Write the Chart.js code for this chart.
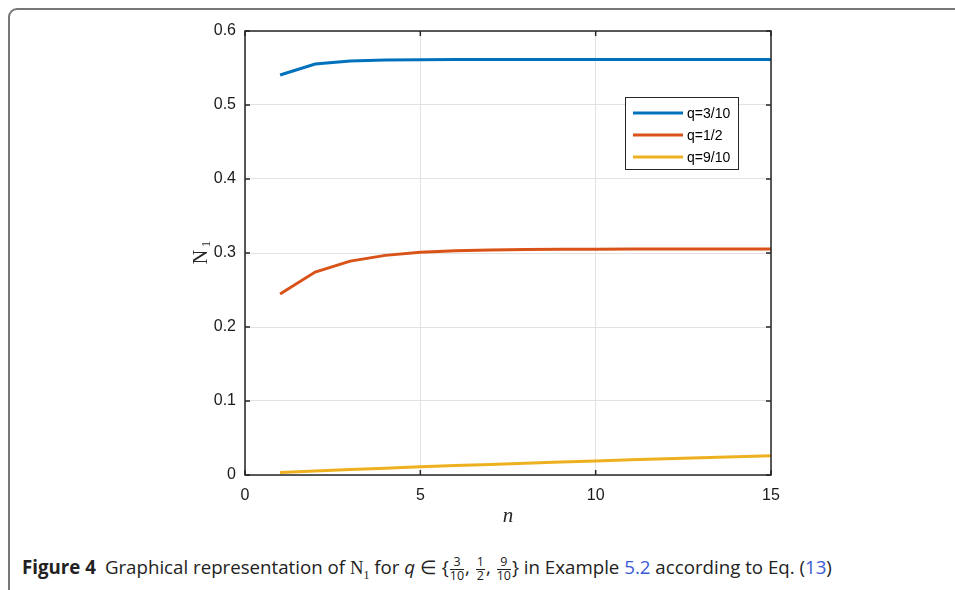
<!DOCTYPE html>
<html>
<head>
<meta charset="utf-8">
<script src="https://cdn.jsdelivr.net/npm/chart.js@4.4.0/dist/chart.umd.min.js"></script>
<style>
    body { margin: 0; background: #fff; width: 955px; height: 590px; overflow: hidden; position: relative; }
    #frame { position: absolute; left: 8px; top: 8px; width: 970px; height: 620px; border: 2px solid #777; border-radius: 9px; box-sizing: border-box; }
    #wrap { position: absolute; left: 0; top: 0; width: 955px; height: 540px; }
    #caption { position: absolute; left: 22px; top: 554px; font-family: "Open Sans", sans-serif; font-size: 18.7px; color: #222; white-space: nowrap; }
    #caption b { font-weight: 700; margin-right: 9px; }
    .frac { display: inline-block; vertical-align: middle; text-align: center; font-size: 12.5px; line-height: 12px; margin: 0 1px; }
    .frac span { display: block; }
    .frac .num { border-bottom: 1px solid #222; padding: 0 1px 1px; }
    .serif { font-family: "Liberation Serif", "DejaVu Serif", serif; }
    .blue { color: #3b5ad6; }
</style>
</head>
<body>
<div id="frame"></div>
<div id="wrap"><canvas id="grafico" width="955" height="540"></canvas></div>
<div id="caption"><b>Figure 4</b>Graphical representation of <span class="serif">N<sub style="font-size:12px">1</sub></span> for <i>q</i> ∈ {<span class="frac"><span class="num">3</span><span>10</span></span>, <span class="frac"><span class="num">1</span><span>2</span></span>, <span class="frac"><span class="num">9</span><span>10</span></span>} in Example <span class="blue">5.2</span> according to Eq. (<span class="blue">13</span>)</div>
<script>
const nValues = [1, 2, 3, 4, 5, 6, 7, 8, 9, 10, 11, 12, 13, 14, 15];
const serie3_10 = [0.5405, 0.5554, 0.5595, 0.5608, 0.5612, 0.5614, 0.5615, 0.5615, 0.5615, 0.5615, 0.5615, 0.5615, 0.5615, 0.5615, 0.5615];
const serie1_2 = [0.2446, 0.2743, 0.2890, 0.2968, 0.3010, 0.3030, 0.3041, 0.3047, 0.3050, 0.3052, 0.3053, 0.3054, 0.3054, 0.3054, 0.3054];
const serie9_10 = [0.0035, 0.0055, 0.0074, 0.0092, 0.0110, 0.0127, 0.0143, 0.0159, 0.0175, 0.0190, 0.0205, 0.0219, 0.0233, 0.0247, 0.0260];
const legendas = ["q=3/10", "q=1/2", "q=9/10"];
const cores = ["#0072BD", "#D95319", "#EDB120"];
const xTicks = [0, 5, 10, 15];
const yTicks = [0, 0.1, 0.2, 0.3, 0.4, 0.5, 0.6];

const series = [serie3_10, serie1_2, serie9_10];

// moldura estilo matlab: caixa, ticks para dentro, legenda e titulos dos eixos
const moldura = {
    id: "moldura",
    afterDraw(chart) {
        const ctx = chart.ctx;
        const a = chart.chartArea;
        const sx = chart.scales.x, sy = chart.scales.y;
        ctx.save();
        ctx.strokeStyle = "#262626";
        ctx.lineWidth = 1.5;
        ctx.strokeRect(a.left, a.top, a.right - a.left, a.bottom - a.top);
        ctx.beginPath();
        xTicks.forEach(v => {
            const px = sx.getPixelForValue(v);
            ctx.moveTo(px, a.bottom); ctx.lineTo(px, a.bottom - 5);
            ctx.moveTo(px, a.top); ctx.lineTo(px, a.top + 5);
        });
        yTicks.forEach(v => {
            const py = sy.getPixelForValue(v);
            ctx.moveTo(a.left, py); ctx.lineTo(a.left + 5, py);
            ctx.moveTo(a.right, py); ctx.lineTo(a.right - 5, py);
        });
        ctx.stroke();

        // legenda
        const lx = a.right - 146, ly = a.top + 66, lw = 113, lh = 72;
        ctx.fillStyle = "#fff";
        ctx.fillRect(lx, ly, lw, lh);
        ctx.strokeStyle = "#262626";
        ctx.lineWidth = 1;
        ctx.strokeRect(lx + 0.5, ly + 0.5, lw, lh);
        ctx.font = "14px 'Liberation Sans', Arial, sans-serif";
        ctx.textBaseline = "middle";
        legendas.forEach((t, i) => {
            const yy = ly + 16 + i * 22;
            ctx.strokeStyle = cores[i];
            ctx.lineWidth = 3;
            ctx.beginPath();
            ctx.moveTo(lx + 8, yy); ctx.lineTo(lx + 58, yy);
            ctx.stroke();
            ctx.fillStyle = "#000";
            ctx.fillText(t, lx + 62, yy + 1);
        });

        // titulos
        ctx.fillStyle = "#262626";
        ctx.font = "italic 21px 'Liberation Serif', serif";
        ctx.textAlign = "center";
        ctx.textBaseline = "alphabetic";
        ctx.fillText("n", (a.left + a.right) / 2, a.bottom + 47);
        ctx.translate(a.left - 38, (a.top + a.bottom) / 2);
        ctx.rotate(-Math.PI / 2);
        ctx.font = "20px 'Liberation Serif', serif";
        ctx.fillText("N", -4, 0);
        ctx.font = "13px 'Liberation Serif', serif";
        ctx.fillText("1", 9, 3);
        ctx.restore();
    }
};

new Chart("grafico", {
    type: "line",
    data: {
        datasets: series.map((s, i) => ({
            label: legendas[i],
            data: nValues.map((n, k) => ({ x: n, y: s[k] })),
            borderColor: cores[i],
            backgroundColor: cores[i],
            borderWidth: 3,
            pointRadius: 0,
            tension: 0
        }))
    },
    options: {
        responsive: false,
        animation: false,
        layout: { padding: { left: 0, right: 184, top: 31, bottom: 0 } },
        plugins: {
            legend: { display: false },
            tooltip: { enabled: false }
        },
        scales: {
            x: {
                type: "linear",
                min: 0,
                max: 15,
                afterFit: s => { s.height = 65; },
                afterBuildTicks: s => { s.ticks = xTicks.map(v => ({ value: v })); },
                grid: { color: "#e2e2e2", drawTicks: false },
                border: { display: false },
                ticks: {
                    color: "#1a1a1a",
                    padding: 11,
                    maxRotation: 0,
                    font: { family: "'Liberation Sans', Arial, sans-serif", size: 16 }
                }
            },
            y: {
                min: 0,
                max: 0.6,
                afterFit: s => { s.width = 245; },
                afterBuildTicks: s => { s.ticks = yTicks.map(v => ({ value: v })); },
                grid: { color: "#e2e2e2", drawTicks: false },
                border: { display: false },
                ticks: {
                    color: "#1a1a1a",
                    padding: 9,
                    callback: v => (v === 0 ? "0" : v.toFixed(1)),
                    font: { family: "'Liberation Sans', Arial, sans-serif", size: 16 }
                }
            }
        }
    },
    plugins: [moldura]
});
</script>
</body>
</html>
